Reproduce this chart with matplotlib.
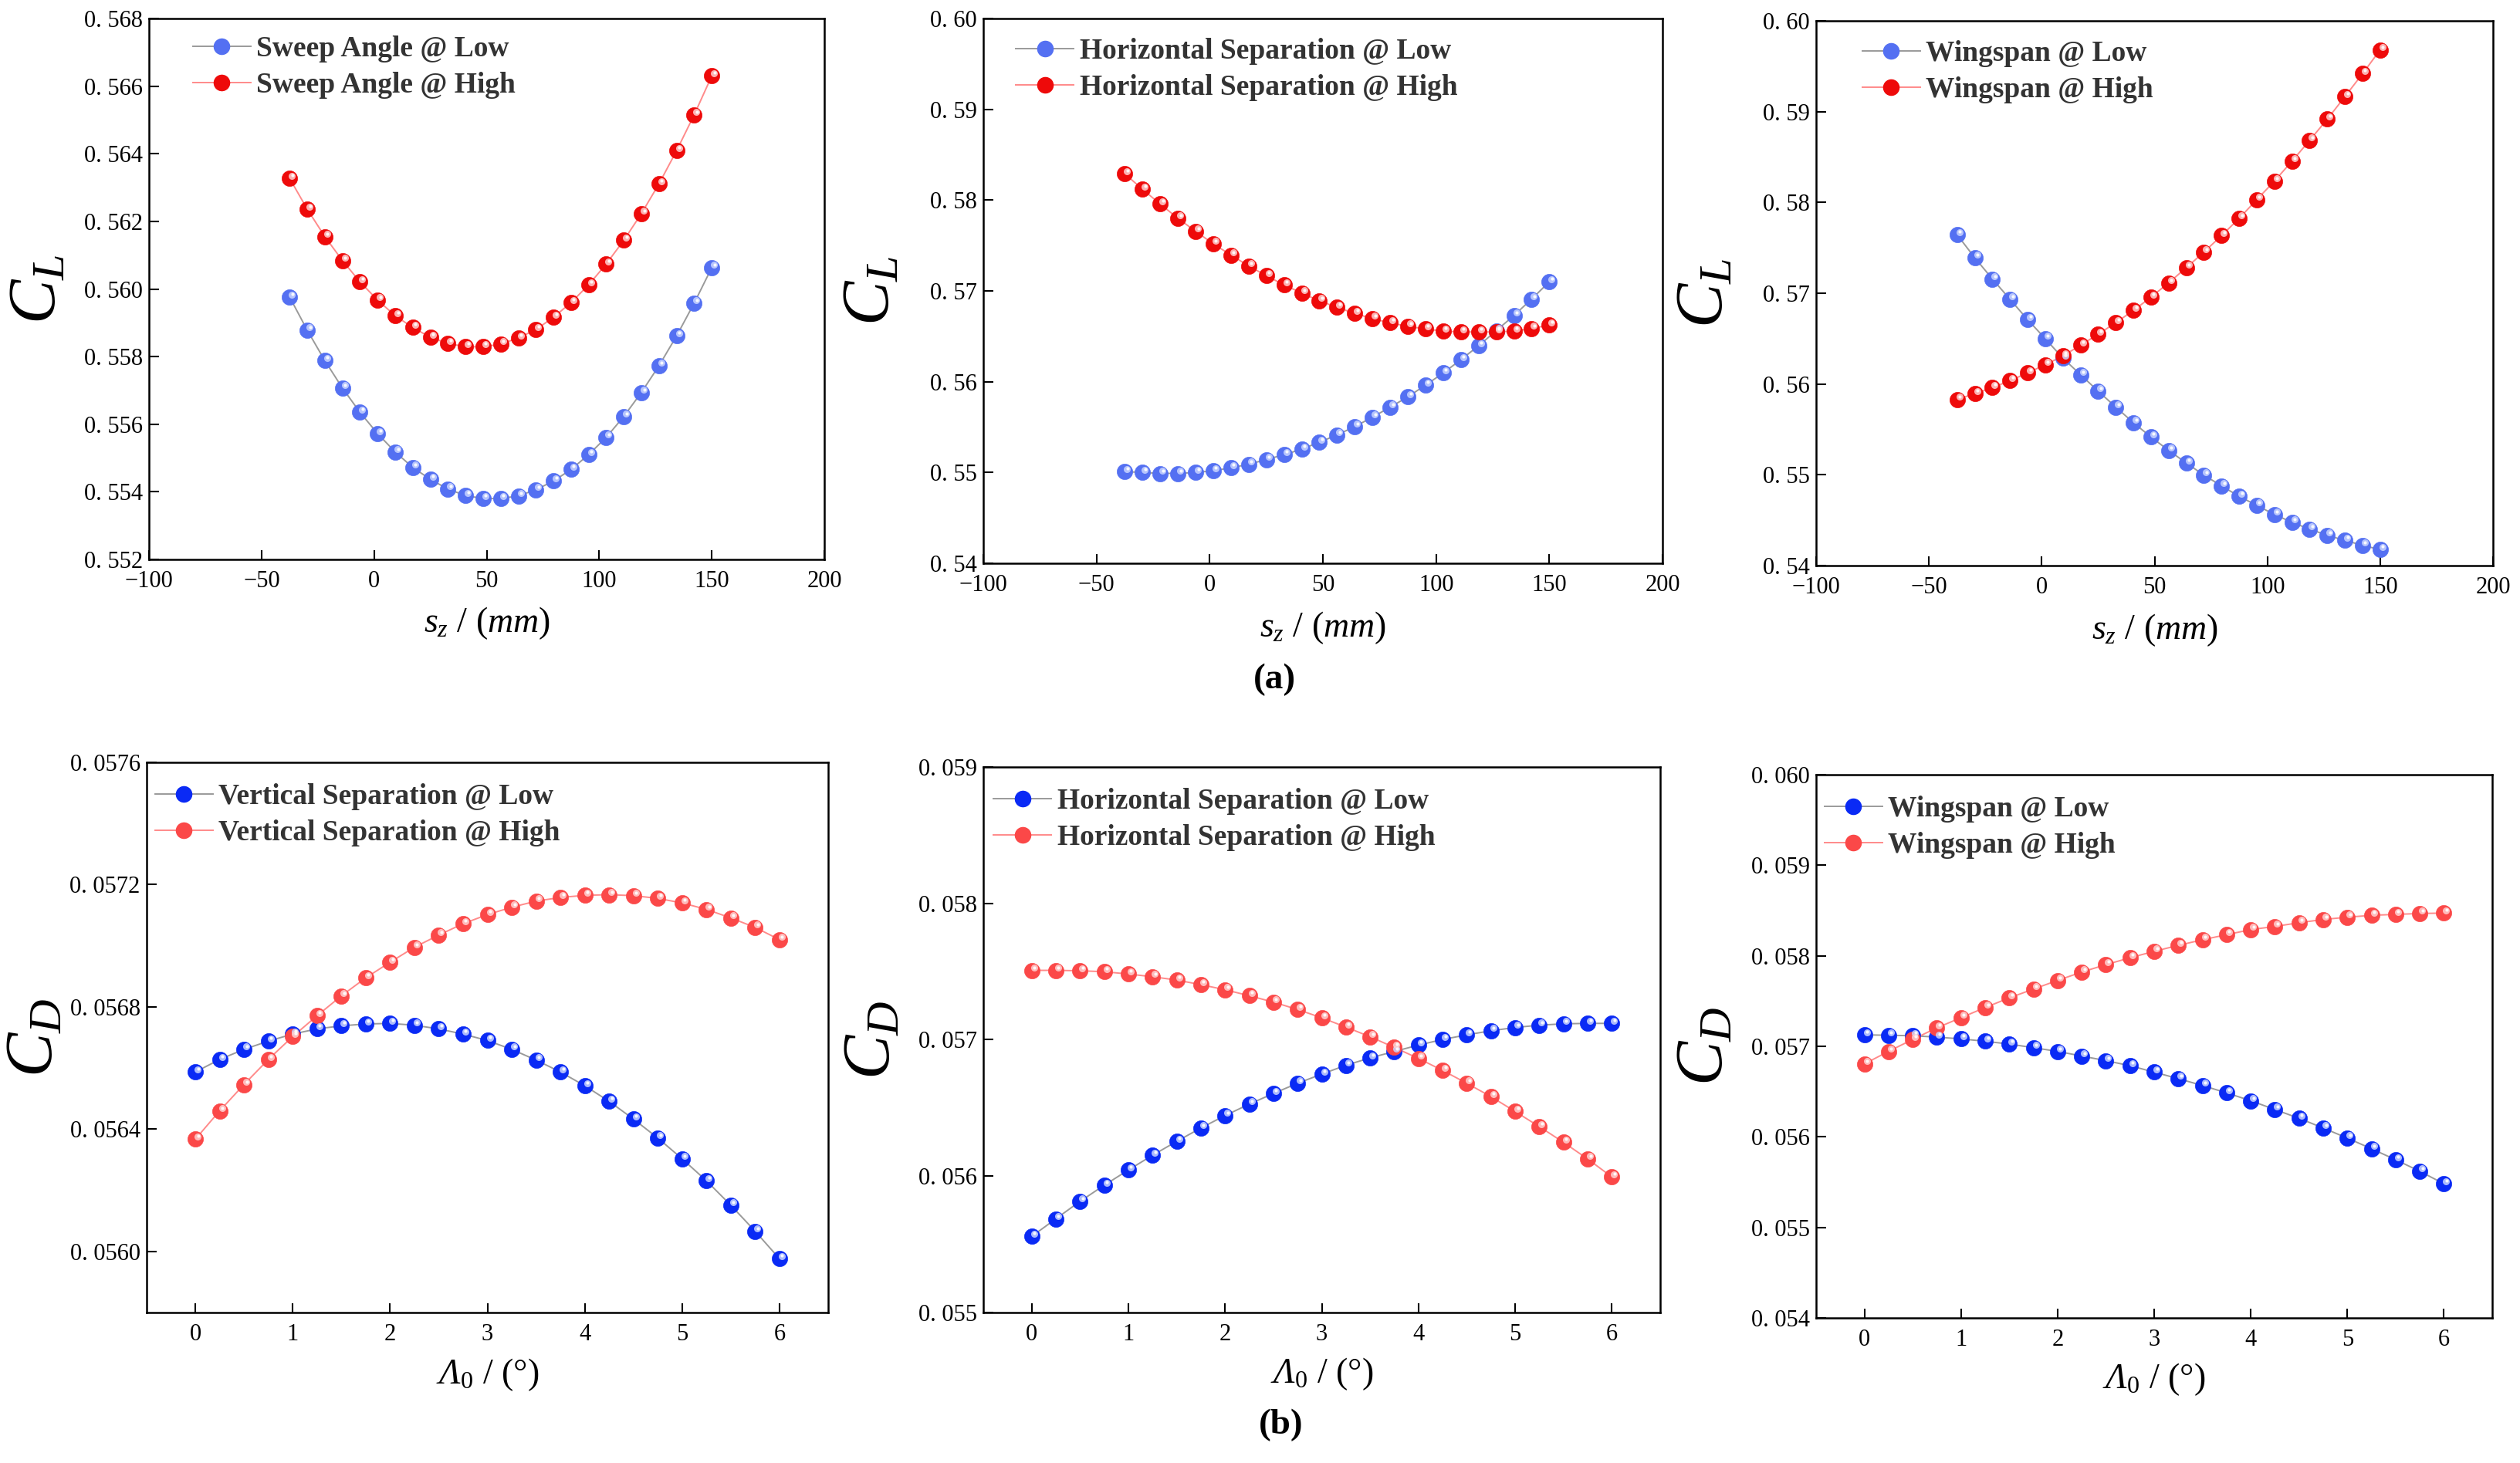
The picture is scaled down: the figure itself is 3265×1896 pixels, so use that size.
import numpy as np
import matplotlib
matplotlib.use("Agg")
import matplotlib.pyplot as plt
from matplotlib.transforms import offset_copy
from matplotlib.lines import Line2D

plt.rcParams['font.family'] = ['Liberation Serif', 'DejaVu Serif']
plt.rcParams['mathtext.fontset'] = 'custom'
plt.rcParams['mathtext.rm'] = 'Liberation Serif'
plt.rcParams['mathtext.it'] = 'Liberation Serif:italic'
plt.rcParams['mathtext.bf'] = 'Liberation Serif:bold'
plt.rcParams['mathtext.cal'] = 'Liberation Serif:italic'

# ---------------- data ----------------
sz = [-37.5 + 7.8125 * i for i in range(25)]
lam0 = [0.25 * i for i in range(25)]

sweep_low = [0.55976, 0.55878, 0.55788, 0.55707, 0.55635, 0.55572, 0.55518, 0.55472, 0.55437,
             0.55408, 0.55389, 0.55380, 0.55380, 0.55388, 0.55406, 0.55432, 0.55466, 0.55510,
             0.55561, 0.55623, 0.55694, 0.55773, 0.55861, 0.55958, 0.56063]
sweep_high = [0.56327, 0.56236, 0.56155, 0.56084, 0.56021, 0.55967, 0.55921, 0.55886, 0.55857,
              0.55839, 0.55829, 0.55829, 0.55837, 0.55855, 0.55880, 0.55916, 0.55960, 0.56012,
              0.56074, 0.56144, 0.56223, 0.56311, 0.56409, 0.56515, 0.56630]

hsep_cl_low = [0.55010, 0.55000, 0.54990, 0.54990, 0.55000, 0.55019, 0.55052, 0.55090, 0.55143,
               0.55195, 0.55257, 0.55333, 0.55414, 0.55505, 0.55609, 0.55719, 0.55833, 0.55962,
               0.56095, 0.56243, 0.56395, 0.56562, 0.56729, 0.56910, 0.57100]
hsep_cl_high = [0.58290, 0.58119, 0.57957, 0.57800, 0.57657, 0.57519, 0.57395, 0.57276, 0.57167,
                0.57067, 0.56976, 0.56890, 0.56819, 0.56752, 0.56695, 0.56648, 0.56610, 0.56581,
                0.56557, 0.56548, 0.56548, 0.56548, 0.56557, 0.56586, 0.56624]

span_cl_low = [0.57644, 0.57391, 0.57157, 0.56933, 0.56709, 0.56499, 0.56285, 0.56103, 0.55922,
               0.55746, 0.55574, 0.55416, 0.55269, 0.55130, 0.54997, 0.54878, 0.54763, 0.54663,
               0.54563, 0.54477, 0.54401, 0.54334, 0.54277, 0.54224, 0.54176]
span_cl_high = [0.55831, 0.55893, 0.55960, 0.56037, 0.56122, 0.56213, 0.56308, 0.56428, 0.56547,
                0.56676, 0.56809, 0.56957, 0.57114, 0.57281, 0.57453, 0.57634, 0.57825, 0.58030,
                0.58235, 0.58455, 0.58684, 0.58917, 0.59165, 0.59418, 0.59680]

vsep_cd_low = [0.056587, 0.056628, 0.056661, 0.056688, 0.056711, 0.056728, 0.056738, 0.056744,
               0.056746, 0.056740, 0.056728, 0.056711, 0.056690, 0.056661, 0.056626, 0.056587,
               0.056542, 0.056491, 0.056433, 0.056371, 0.056303, 0.056231, 0.056151, 0.056066,
               0.055976]
vsep_cd_high = [0.056367, 0.056460, 0.056546, 0.056628, 0.056703, 0.056771, 0.056836, 0.056895,
                0.056946, 0.056995, 0.057035, 0.057072, 0.057102, 0.057126, 0.057146, 0.057158,
                0.057165, 0.057167, 0.057164, 0.057155, 0.057140, 0.057119, 0.057091, 0.057060,
                0.057020]

hsep_cd_low = [0.055558, 0.055687, 0.055815, 0.055933, 0.056045, 0.056153, 0.056255, 0.056353,
               0.056444, 0.056528, 0.056606, 0.056681, 0.056748, 0.056813, 0.056867, 0.056914,
               0.056961, 0.057002, 0.057036, 0.057066, 0.057090, 0.057107, 0.057117, 0.057120,
               0.057120]
hsep_cd_high = [0.057509, 0.057509, 0.057506, 0.057499, 0.057482, 0.057462, 0.057438, 0.057404,
                0.057367, 0.057323, 0.057276, 0.057222, 0.057161, 0.057093, 0.057022, 0.056944,
                0.056863, 0.056775, 0.056681, 0.056583, 0.056474, 0.056363, 0.056248, 0.056126,
                0.055994]

span_cd_low = [0.057127, 0.057122, 0.057117, 0.057102, 0.057082, 0.057056, 0.057025, 0.056985,
               0.056944, 0.056893, 0.056842, 0.056786, 0.056715, 0.056643, 0.056567, 0.056486,
               0.056399, 0.056302, 0.056205, 0.056098, 0.055986, 0.055869, 0.055747, 0.055620,
               0.055482]
span_cd_high = [0.056806, 0.056944, 0.057076, 0.057204, 0.057316, 0.057428, 0.057535, 0.057632,
                0.057728, 0.057820, 0.057902, 0.057978, 0.058049, 0.058115, 0.058177, 0.058233,
                0.058289, 0.058324, 0.058365, 0.058401, 0.058426, 0.058447, 0.058457, 0.058467,
                0.058472]

sz_ticks = [-100, -50, 0, 50, 100, 150, 200]
sz_ticklabels = ['\u2212100', '\u221250', '0', '50', '100', '150', '200']
lam_ticks = [0, 1, 2, 3, 4, 5, 6]
lam_ticklabels = ['0', '1', '2', '3', '4', '5', '6']

cl1_ticks = [0.552, 0.554, 0.556, 0.558, 0.560, 0.562, 0.564, 0.566, 0.568]
cl1_labels = ['0. 552', '0. 554', '0. 556', '0. 558', '0. 560', '0. 562', '0. 564', '0. 566', '0. 568']
cl2_ticks = [0.54, 0.55, 0.56, 0.57, 0.58, 0.59, 0.60]
cl2_labels = ['0. 54', '0. 55', '0. 56', '0. 57', '0. 58', '0. 59', '0. 60']
cd1_ticks = [0.0560, 0.0564, 0.0568, 0.0572, 0.0576]
cd1_labels = ['0. 0560', '0. 0564', '0. 0568', '0. 0572', '0. 0576']
cd2_ticks = [0.055, 0.056, 0.057, 0.058, 0.059]
cd2_labels = ['0. 055', '0. 056', '0. 057', '0. 058', '0. 059']
cd3_ticks = [0.054, 0.055, 0.056, 0.057, 0.058, 0.059, 0.060]
cd3_labels = ['0. 054', '0. 055', '0. 056', '0. 057', '0. 058', '0. 059', '0. 060']

# ---------------- figure ----------------
W, H = 3265, 1896
fig = plt.figure(figsize=(W / 100, H / 100), dpi=100)

def rect(l, t, r, b):
    return [l / W, 1 - b / H, (r - l) / W, (b - t) / H]

TOP_BLUE, TOP_RED = '#5470f2', '#ee0a0a'
BOT_BLUE, BOT_RED = '#0a2af5', '#fb4848'
BLUE_LINE, RED_LINE = '#9a9a9a', '#ff8a8a'
MS = 14.5

def sphere(ax, x, y, col, hl, line_col, label):
    ax.plot(x, y, '-', color=line_col, lw=1.4, zorder=2)
    ax.plot(x, y, 'o', color=col, ms=MS, mec=col, mew=0.5, zorder=3)
    tr = offset_copy(ax.transData, fig=fig, x=3.0, y=3.5, units='dots')
    ax.plot(x, y, 'o', color=hl, ms=6.5, mew=0, alpha=0.85, transform=tr, zorder=4)
    tr2 = offset_copy(ax.transData, fig=fig, x=3.5, y=4.0, units='dots')
    ax.plot(x, y, 'o', color='white', ms=3.0, mew=0, alpha=0.9, transform=tr2, zorder=5)
    return Line2D([], [], color=line_col, lw=1.4, marker='o', ms=MS, mfc=col, mec=col, label=label)

panels = [
    dict(r=(193, 24, 1068, 725), x=sz, low=sweep_low, high=sweep_high, names='Sweep Angle',
         ylim=(0.552, 0.568), yt=cl1_ticks, yl=cl1_labels, kind='L', row=0, leg=(0.065, 0.968)),
    dict(r=(1274, 24, 2154, 730), x=sz, low=hsep_cl_low, high=hsep_cl_high, names='Horizontal Separation',
         ylim=(0.54, 0.60), yt=cl2_ticks, yl=cl2_labels, kind='L', row=0, leg=(0.048, 0.965)),
    dict(r=(2353, 27, 3230, 733), x=sz, low=span_cl_low, high=span_cl_high, names='Wingspan',
         ylim=(0.54, 0.60), yt=cl2_ticks, yl=cl2_labels, kind='L', row=0, leg=(0.068, 0.965)),
    dict(r=(190, 988, 1073, 1701), x=lam0, low=vsep_cd_low, high=vsep_cd_high, names='Vertical Separation',
         ylim=(0.0558, 0.0576), yt=cd1_ticks, yl=cd1_labels, kind='D', row=1, leg=(0.012, 0.962)),
    dict(r=(1274, 994, 2151, 1701), x=lam0, low=hsep_cd_low, high=hsep_cd_high, names='Horizontal Separation',
         ylim=(0.055, 0.059), yt=cd2_ticks, yl=cd2_labels, kind='D', row=1, leg=(0.015, 0.962)),
    dict(r=(2353, 1004, 3229, 1708), x=lam0, low=span_cd_low, high=span_cd_high, names='Wingspan',
         ylim=(0.054, 0.060), yt=cd3_ticks, yl=cd3_labels, kind='D', row=1, leg=(0.012, 0.962)),
]

for p in panels:
    ax = fig.add_axes(rect(*p['r']))
    if p['row'] == 0:
        cb, cr = TOP_BLUE, TOP_RED
    else:
        cb, cr = BOT_BLUE, BOT_RED
    h1 = sphere(ax, p['x'], p['low'], cb, '#c8d4ff', BLUE_LINE, p['names'] + ' @ Low')
    h2 = sphere(ax, p['x'], p['high'], cr, '#ffd0d0', RED_LINE, p['names'] + ' @ High')

    if p['row'] == 0:
        ax.set_xlim(-100, 200)
        ax.set_xticks(sz_ticks)
        ax.set_xticklabels(sz_ticklabels)
        ax.set_xlabel(r'$s_z$ / ($mm$)', fontsize=33)
        ax.xaxis.set_label_coords(0.5, -0.085)
    else:
        ax.set_xlim(-0.5, 6.5)
        ax.set_xticks(lam_ticks)
        ax.set_xticklabels(lam_ticklabels)
        ax.set_xlabel(r'$\mathcal{Λ}_{\mathit{0}}$ / (°)', fontsize=33)
        ax.xaxis.set_label_coords(0.5, -0.080)
    ax.set_ylim(*p['ylim'])
    ax.set_yticks(p['yt'])
    ax.set_yticklabels(p['yl'])
    ax.set_ylabel(r'$C_%s$' % p['kind'], fontsize=62)
    ax.yaxis.set_label_coords(-0.118, 0.5)

    ax.tick_params(axis='both', direction='in', length=9, width=1.5, labelsize=22,
                   top=False, right=False)
    ax.tick_params(axis='x', pad=10)
    ax.tick_params(axis='y', pad=6)
    for s in ax.spines.values():
        s.set_linewidth(1.8)

    ax.legend(handles=[h1, h2], loc='upper left', bbox_to_anchor=p['leg'], frameon=False,
              prop=dict(family='Liberation Serif', weight='bold', size=27),
              labelcolor='#333333', handlelength=2.0, handletextpad=0.2,
              labelspacing=0.32, borderpad=0.0, borderaxespad=0.0, numpoints=1)

fig.text(1651 / W, 1 - 881 / H, '(a)', ha='center', va='center', fontsize=34, fontweight='bold')
fig.text(1660 / W, 1 - 1847 / H, '(b)', ha='center', va='center', fontsize=34, fontweight='bold')

fig.savefig('out.png', dpi=100)
